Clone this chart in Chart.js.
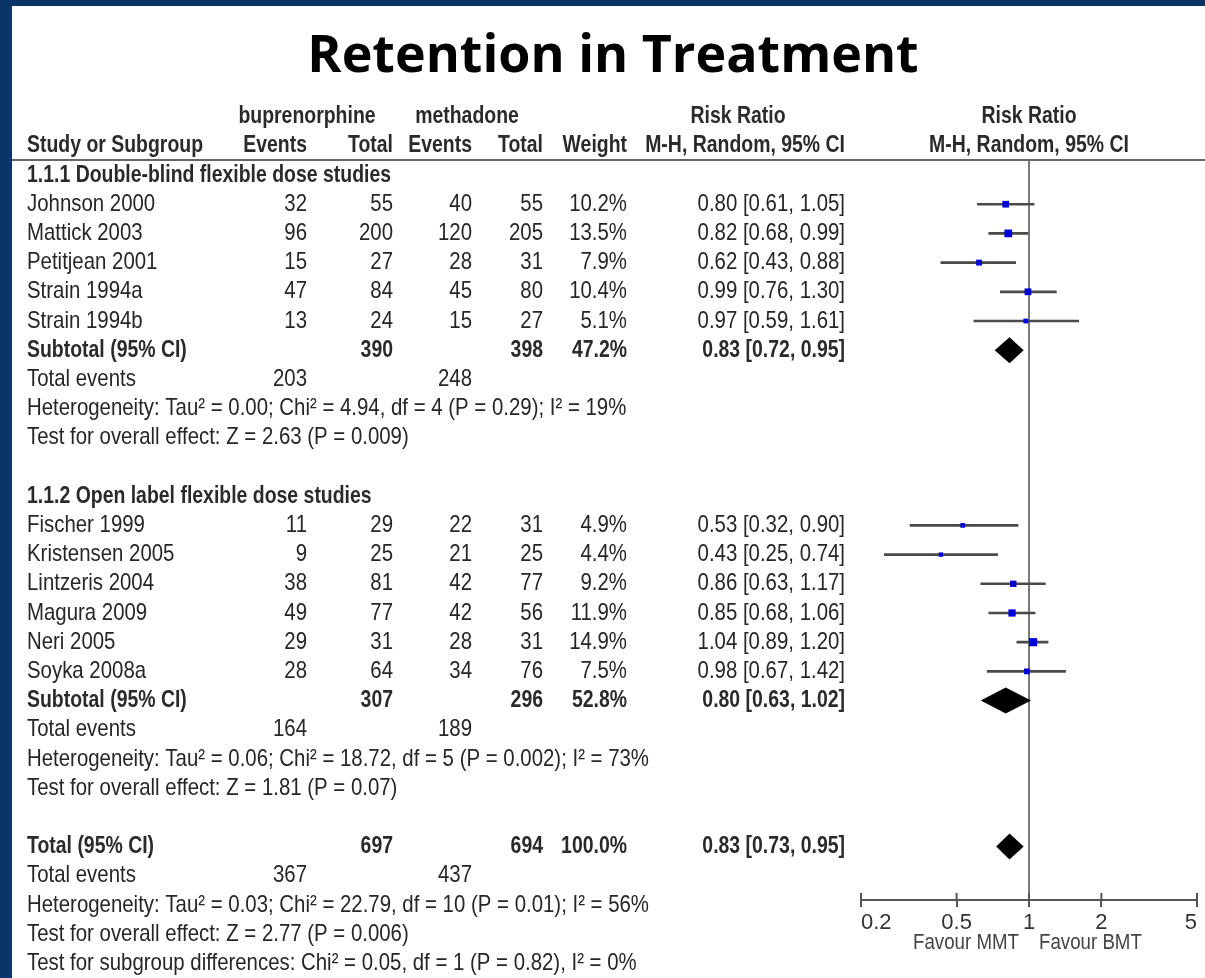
<!DOCTYPE html>
<html>
<head>
<meta charset="utf-8">
<title>Retention in Treatment</title>
<script src="https://cdn.jsdelivr.net/npm/chart.js@4.4.1/dist/chart.umd.min.js"></script>
<style>
  html, body { margin: 0; padding: 0; background: #fff; }
  canvas { display: block; }
</style>
</head>
<body>
<canvas id="forest" width="1205" height="978"></canvas>
<script>
// ---- data ----
const groupLabels = ['1.1.1 Double-blind flexible dose studies', '1.1.2 Open label flexible dose studies'];

const names1 = ['Johnson 2000', 'Mattick 2003', 'Petitjean 2001', 'Strain 1994a', 'Strain 1994b'];
const bupEvents1 = [32, 96, 15, 47, 13];
const bupTotal1 = [55, 200, 27, 84, 24];
const metEvents1 = [40, 120, 28, 45, 15];
const metTotal1 = [55, 205, 31, 80, 27];
const weight1 = [10.2, 13.5, 7.9, 10.4, 5.1];
const rr1 = [0.80, 0.82, 0.62, 0.99, 0.97];
const lo1 = [0.61, 0.68, 0.43, 0.76, 0.59];
const hi1 = [1.05, 0.99, 0.88, 1.30, 1.61];

const names2 = ['Fischer 1999', 'Kristensen 2005', 'Lintzeris 2004', 'Magura 2009', 'Neri 2005', 'Soyka 2008a'];
const bupEvents2 = [11, 9, 38, 49, 29, 28];
const bupTotal2 = [29, 25, 81, 77, 31, 64];
const metEvents2 = [22, 21, 42, 42, 28, 34];
const metTotal2 = [31, 25, 77, 56, 31, 76];
const weight2 = [4.9, 4.4, 9.2, 11.9, 14.9, 7.5];
const rr2 = [0.53, 0.43, 0.86, 0.85, 1.04, 0.98];
const lo2 = [0.32, 0.25, 0.63, 0.68, 0.89, 0.67];
const hi2 = [0.90, 0.74, 1.17, 1.06, 1.20, 1.42];

// subtotals per group, then the overall total
const subBupTotal = [390, 307];
const subMetTotal = [398, 296];
const subWeight = [47.2, 52.8];
const subRR = [0.83, 0.80];
const subLo = [0.72, 0.63];
const subHi = [0.95, 1.02];
const subBupEvents = [203, 164];
const subMetEvents = [248, 189];
const hetTexts = [
  'Heterogeneity: Tau\u00b2 = 0.00; Chi\u00b2 = 4.94, df = 4 (P = 0.29); I\u00b2 = 19%',
  'Heterogeneity: Tau\u00b2 = 0.06; Chi\u00b2 = 18.72, df = 5 (P = 0.002); I\u00b2 = 73%'
];
const effectTexts = [
  'Test for overall effect: Z = 2.63 (P = 0.009)',
  'Test for overall effect: Z = 1.81 (P = 0.07)'
];

const totBupTotal = 697, totMetTotal = 694, totWeight = 100.0;
const totRR = 0.83, totLo = 0.73, totHi = 0.95;
const totBupEvents = 367, totMetEvents = 437;
const totHet = 'Heterogeneity: Tau\u00b2 = 0.03; Chi\u00b2 = 22.79, df = 10 (P = 0.01); I\u00b2 = 56%';
const totEffect = 'Test for overall effect: Z = 2.77 (P = 0.006)';
const subgroupTest = 'Test for subgroup differences: Chi\u00b2 = 0.05, df = 1 (P = 0.82), I\u00b2 = 0%';

const xTicks = [0.2, 0.5, 1, 2, 5];

// ---- table layout ----
const COL = { name: 27, bupE: 307, bupT: 393, metE: 472, metT: 543, wt: 627, ci: 845 };

const groups = [
  { label: groupLabels[0], names: names1, bE: bupEvents1, bT: bupTotal1, mE: metEvents1, mT: metTotal1, wt: weight1, rr: rr1, lo: lo1, hi: hi1 },
  { label: groupLabels[1], names: names2, bE: bupEvents2, bT: bupTotal2, mE: metEvents2, mT: metTotal2, wt: weight2, rr: rr2, lo: lo2, hi: hi2 }
];

function ciText(e, l, h) {
  return e.toFixed(2) + ' [' + l.toFixed(2) + ', ' + h.toFixed(2) + ']';
}

const rows = [];
const ciBars = [];
const squares = [];
const diamonds = [];
let k = 0;
groups.forEach((g, gi) => {
  rows.push({ k: k++, cells: [[g.label, COL.name, 'left', true]] });
  g.names.forEach((n, i) => {
    rows.push({ k: k, cells: [
      [n, COL.name, 'left'],
      [String(g.bE[i]), COL.bupE, 'right'],
      [String(g.bT[i]), COL.bupT, 'right'],
      [String(g.mE[i]), COL.metE, 'right'],
      [String(g.mT[i]), COL.metT, 'right'],
      [g.wt[i].toFixed(1) + '%', COL.wt, 'right'],
      [ciText(g.rr[i], g.lo[i], g.hi[i]), COL.ci, 'right']
    ]});
    ciBars.push({ x: [g.lo[i], g.hi[i]], y: k });
    squares.push({ x: g.rr[i], y: k, w: g.wt[i] });
    k++;
  });
  rows.push({ k: k, cells: [
    ['Subtotal (95% CI)', COL.name, 'left', true],
    [String(subBupTotal[gi]), COL.bupT, 'right', true],
    [String(subMetTotal[gi]), COL.metT, 'right', true],
    [subWeight[gi].toFixed(1) + '%', COL.wt, 'right', true],
    [ciText(subRR[gi], subLo[gi], subHi[gi]), COL.ci, 'right', true]
  ]});
  diamonds.push({ est: subRR[gi], lo: subLo[gi], hi: subHi[gi], k: k });
  k++;
  rows.push({ k: k++, cells: [
    ['Total events', COL.name, 'left'],
    [String(subBupEvents[gi]), COL.bupE, 'right'],
    [String(subMetEvents[gi]), COL.metE, 'right']
  ]});
  rows.push({ k: k++, cells: [[hetTexts[gi], COL.name, 'left']] });
  rows.push({ k: k++, cells: [[effectTexts[gi], COL.name, 'left']] });
  k++;
});
rows.push({ k: k, cells: [
  ['Total (95% CI)', COL.name, 'left', true],
  [String(totBupTotal), COL.bupT, 'right', true],
  [String(totMetTotal), COL.metT, 'right', true],
  [totWeight.toFixed(1) + '%', COL.wt, 'right', true],
  [ciText(totRR, totLo, totHi), COL.ci, 'right', true]
]});
diamonds.push({ est: totRR, lo: totLo, hi: totHi, k: k });
k++;
rows.push({ k: k++, cells: [
  ['Total events', COL.name, 'left'],
  [String(totBupEvents), COL.bupE, 'right'],
  [String(totMetEvents), COL.metE, 'right']
]});
rows.push({ k: k++, cells: [[totHet, COL.name, 'left']] });
rows.push({ k: k++, cells: [[totEffect, COL.name, 'left']] });
rows.push({ k: k++, cells: [[subgroupTest, COL.name, 'left']] });

// header rows sit above the first data row
rows.push({ k: -2, cells: [
  ['buprenorphine', 307, 'center', true],
  ['methadone', 467, 'center', true],
  ['Risk Ratio', 738, 'center', true],
  ['Risk Ratio', 'plot', 'center', true]
]});
rows.push({ k: -1, cells: [
  ['Study or Subgroup', COL.name, 'left', true],
  ['Events', COL.bupE, 'right', true],
  ['Total', COL.bupT, 'right', true],
  ['Events', COL.metE, 'right', true],
  ['Total', COL.metT, 'right', true],
  ['Weight', COL.wt, 'right', true],
  ['M-H, Random, 95% CI', COL.ci, 'right', true],
  ['M-H, Random, 95% CI', 'plot', 'center', true]
]});

// narrow Arial-like text: Liberation Sans squeezed horizontally
function drawText(ctx, s, x, y, align, bold, size, color) {
  ctx.save();
  ctx.font = (bold ? 'bold ' : '') + size + 'px "Liberation Sans", Arial, sans-serif';
  ctx.fillStyle = color || '#262626';
  ctx.textBaseline = 'middle';
  ctx.textAlign = align;
  ctx.translate(x, y);
  ctx.scale(bold ? 0.81 : 0.85, 1);
  ctx.fillText(s, 0, 0);
  ctx.restore();
}

const forestPlugin = {
  id: 'forest',
  beforeDraw(chart) {
    const { ctx, width, height } = chart;
    ctx.save();
    ctx.fillStyle = '#0b3567';
    ctx.fillRect(0, 0, width, height);
    ctx.fillStyle = '#ffffff';
    ctx.fillRect(12, 6, width - 12, height - 6);
    ctx.restore();
  },
  afterDatasetsDraw(chart) {
    const { ctx, scales: { x, y } } = chart;
    ctx.save();
    ctx.fillStyle = '#000';
    diamonds.forEach(d => {
      const yc = y.getPixelForValue(d.k);
      const xe = x.getPixelForValue(d.est);
      ctx.beginPath();
      ctx.moveTo(x.getPixelForValue(d.lo), yc);
      ctx.lineTo(xe, yc - 13);
      ctx.lineTo(x.getPixelForValue(d.hi), yc);
      ctx.lineTo(xe, yc + 13);
      ctx.closePath();
      ctx.fill();
    });
    ctx.restore();
  },
  afterDraw(chart) {
    const { ctx, chartArea, scales: { x, y } } = chart;
    const plotMid = (chartArea.left + chartArea.right) / 2;

    // header rule
    ctx.save();
    ctx.strokeStyle = '#666';
    ctx.lineWidth = 2;
    ctx.beginPath();
    ctx.moveTo(12, chartArea.top);
    ctx.lineTo(chart.width, chartArea.top);
    ctx.stroke();

    // tick stubs above the axis line
    ctx.strokeStyle = '#555';
    x.ticks.forEach(t => {
      const px = x.getPixelForValue(t.value);
      ctx.beginPath();
      ctx.moveTo(px, chartArea.bottom - 7);
      ctx.lineTo(px, chartArea.bottom);
      ctx.stroke();
    });
    ctx.restore();

    rows.forEach(r => {
      const py = y.getPixelForValue(r.k);
      r.cells.forEach(c => {
        const cx = c[1] === 'plot' ? plotMid : c[1];
        drawText(ctx, c[0], cx, py, c[2], c[3], 24, c[3] ? '#2a2a2a' : '#262626');
      });
    });

    const one = x.getPixelForValue(1);
    drawText(ctx, 'Favour MMT', one - 10, 943, 'right', false, 22, '#444');
    drawText(ctx, 'Favour BMT', one + 10, 943, 'left', false, 22, '#444');
  }
};

new Chart(document.getElementById('forest'), {
  type: 'scatter',
  data: {
    datasets: [
      {
        type: 'scatter',
        data: squares,
        order: 0,
        pointStyle: 'rect',
        backgroundColor: '#0000d8',
        borderWidth: 0,
        pointRadius: ctx => 1.485 * Math.sqrt(ctx.raw.w)
      },
      {
        type: 'bar',
        indexAxis: 'y',
        data: ciBars,
        order: 1,
        barThickness: 2,
        backgroundColor: '#4a4a4a',
        borderWidth: 0
      }
    ]
  },
  options: {
    responsive: false,
    animation: false,
    events: [],
    layout: { padding: { left: 29, right: 8, top: 6, bottom: 0 } },
    plugins: {
      legend: { display: false },
      tooltip: { enabled: false },
      title: {
        display: true,
        text: 'Retention in Treatment',
        color: '#000',
        font: { family: '"Open Sans"', weight: 'bold', size: 52 },
        padding: { top: 20, bottom: 71.6 }
      }
    },
    scales: {
      x: {
        type: 'logarithmic',
        position: 'bottom',
        min: 0.2,
        max: 5,
        offset: false,
        afterBuildTicks: scale => { scale.ticks = xTicks.map(v => ({ value: v })); },
        afterFit: scale => { scale.height = 78; },
        border: { display: true, color: '#555', width: 2 },
        grid: {
          offset: false,
          drawOnChartArea: true,
          color: ctx => (ctx.tick && ctx.tick.value === 1) ? '#7a7a7a' : 'rgba(0,0,0,0)',
          lineWidth: 2,
          drawTicks: true,
          tickLength: 7,
          tickColor: '#555'
        },
        ticks: {
          autoSkip: false,
          maxRotation: 0,
          align: 'inner',
          padding: 3,
          color: '#333',
          font: { family: '"Liberation Sans Narrow", "Liberation Sans"', size: 22 },
          callback: v => String(v)
        }
      },
      y: {
        type: 'linear',
        position: 'left',
        reverse: true,
        offset: false,
        min: -0.514,
        max: 24.83,
        afterFit: scale => { scale.width = 832; },
        border: { display: false },
        grid: { display: false, offset: false },
        ticks: { display: false }
      }
    }
  },
  plugins: [forestPlugin]
});
</script>
</body>
</html>
